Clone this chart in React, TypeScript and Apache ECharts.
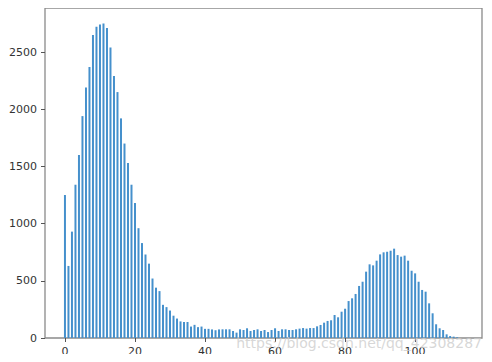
import React, { useEffect, useRef } from "react";
import * as echarts from "echarts";

// histogram counts, one bar per integer bin starting at 0
const counts: number[] = [
  1250, 630, 930, 1340, 1600, 1940, 2190, 2370, 2650, 2720,
  2740, 2750, 2710, 2540, 2290, 2150, 1920, 1700, 1530, 1340,
  1180, 960, 830, 730, 650, 520, 440, 410, 290, 270,
  240, 195, 170, 145, 140, 140, 100, 115, 95, 100,
  80, 80, 75, 68, 75, 76, 76, 76, 61, 47,
  76, 70, 85, 61, 70, 76, 61, 70, 52, 70,
  85, 61, 76, 76, 70, 70, 76, 82, 87, 82,
  87, 87, 102, 114, 134, 149, 155, 201, 181, 230,
  256, 323, 347, 385, 455, 492, 580, 644, 635, 676,
  731, 749, 754, 763, 781, 725, 711, 720, 676, 588,
  565, 492, 420, 405, 303, 216, 120, 85, 70, 32,
  17, 12, 6,
];
const xTicks: number[] = [0, 20, 40, 60, 80, 100];
const yTicks: number[] = [0, 500, 1000, 1500, 2000, 2500];
const watermark = "https://blog.csdn.net/qq_42308287";

export default function App() {
  const ref = useRef<HTMLDivElement>(null);
  useEffect(() => {
    if (!ref.current) return;
    const chart = echarts.init(ref.current, null, { renderer: "svg" });
    const font = "DejaVu Sans";
    chart.setOption({
      animation: false,
      backgroundColor: "#ffffff",
      grid: {
        left: 45,
        top: 8,
        width: 437,
        height: 330,
        show: true,
        borderColor: "#8a8a8a",
        borderWidth: 1.3,
      },
      xAxis: {
        type: "value",
        min: -5.7,
        max: 119.1,
        splitLine: { show: false },
        axisLine: { show: false, onZero: false },
        axisTick: { show: true, length: 4, customValues: xTicks, lineStyle: { color: "#555" } },
        axisLabel: {
          customValues: xTicks,
          margin: 8,
          fontFamily: font,
          fontSize: 11,
          color: "#333",
          formatter: (v: number) => String(v),
        },
      },
      yAxis: {
        type: "value",
        min: 0,
        max: 2885,
        splitLine: { show: false },
        axisLine: { show: false, onZero: false },
        axisTick: { show: true, length: 4, customValues: yTicks, lineStyle: { color: "#555" } },
        axisLabel: {
          customValues: yTicks,
          margin: 8,
          fontFamily: font,
          fontSize: 11,
          color: "#333",
          formatter: (v: number) => String(v),
        },
      },
      series: [
        {
          type: "bar",
          data: counts.map((c, i) => [i, c]),
          barWidth: 2,
          itemStyle: { color: "#4590cc" },
        },
      ],
      graphic: [
        {
          type: "text",
          right: 10,
          top: 336,
          style: {
            text: watermark,
            fontFamily: font,
            fontSize: 14,
            fill: "rgba(205,205,205,0.8)",
          },
          z: 100,
        },
      ],
    });
    return () => chart.dispose();
  }, []);
  return <div ref={ref} style={{ width: 492, height: 362, margin: -8 }} />;
}
